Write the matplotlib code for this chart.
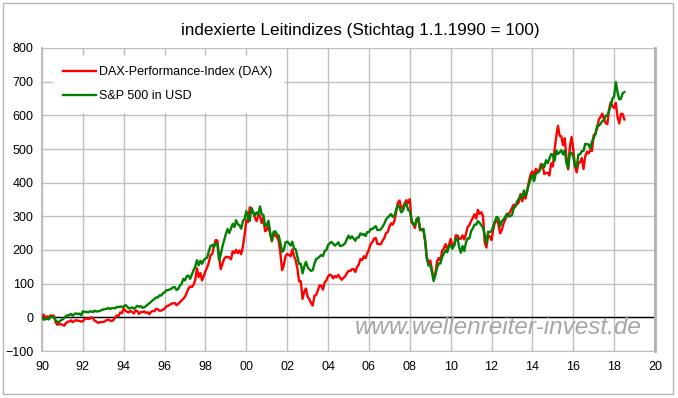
import matplotlib
matplotlib.use("Agg")
import matplotlib.pyplot as plt
from matplotlib.patches import Rectangle
import numpy as np

plt.rcParams['font.family'] = ['Liberation Sans', 'DejaVu Sans']

title = "indexierte Leitindizes (Stichtag 1.1.1990 = 100)"
label_dax = "DAX-Performance-Index (DAX)"
label_spx = "S&P 500 in USD"
watermark = "www.wellenreiter-invest.de"

start_year = 1990
dax_base = 1790
spx_base = 353.4

# monthly closing levels, Jan..Dec per year (2018: Jan..Jun)
dax_levels = [
    1930, 1770, 1840, 1800, 1890, 1880, 1870, 1530, 1390, 1450, 1420, 1400,   # 1990
    1341, 1478, 1555, 1571, 1632, 1530, 1601, 1640, 1611, 1603, 1566, 1578,   # 1991
    1690, 1734, 1700, 1719, 1788, 1740, 1602, 1561, 1491, 1532, 1531, 1545,   # 1992
    1583, 1650, 1666, 1617, 1597, 1655, 1790, 1887, 1876, 2045, 2012, 2267,   # 1993
    2144, 2081, 2050, 2142, 2072, 1995, 2163, 2112, 1971, 2075, 2063, 2107,   # 1994
    2026, 2060, 1957, 2083, 2125, 2116, 2245, 2222, 2139, 2149, 2190, 2254,   # 1995
    2377, 2400, 2460, 2516, 2530, 2551, 2432, 2514, 2592, 2695, 2775, 2889,   # 1996
    3100, 3320, 3430, 3400, 3520, 3780, 4400, 3930, 4150, 3750, 3990, 4250,   # 1997
    4450, 4710, 5100, 5160, 5600, 5900, 5870, 4950, 4350, 4650, 4900, 5000,   # 1998
    5000, 4970, 4880, 5300, 5200, 5380, 5200, 5350, 5150, 5550, 6200, 6960,   # 1999
    6850, 7640, 7600, 7400, 7100, 6900, 7200, 7200, 6800, 7080, 6370, 6430,   # 2000
    6800, 6200, 5830, 6260, 6120, 6060, 5860, 5190, 4300, 4560, 5040, 5160,   # 2001
    5100, 5040, 5400, 5040, 4820, 4380, 3700, 3710, 2770, 3150, 3320, 2890,   # 2002
    2750, 2550, 2420, 2940, 2980, 3220, 3490, 3480, 3260, 3650, 3750, 3965,   # 2003
    4060, 4020, 3860, 3985, 3920, 4050, 3900, 3785, 3890, 3960, 4130, 4256,   # 2004
    4250, 4350, 4350, 4200, 4460, 4590, 4890, 4830, 5040, 4930, 5190, 5400,   # 2005
    5670, 5800, 5970, 6010, 5690, 5680, 5680, 5860, 6000, 6270, 6310, 6600,   # 2006
    6790, 6720, 6920, 7410, 7880, 8000, 7580, 7640, 7860, 8020, 7870, 8070,   # 2007
    6850, 6750, 6540, 6950, 7100, 6420, 6480, 6420, 5830, 4990, 4670, 4810,   # 2008
    4340, 3840, 4080, 4770, 4940, 4810, 5330, 5460, 5680, 5410, 5630, 5960,   # 2009
    5610, 5600, 6150, 6140, 5960, 5970, 6150, 5930, 6230, 6600, 6690, 6910,   # 2010
    7080, 7270, 7040, 7510, 7290, 7380, 7160, 5780, 5500, 6140, 6090, 5900,   # 2011
    6460, 6860, 6950, 6760, 6260, 6420, 6770, 6970, 7220, 7260, 7410, 7610,   # 2012
    7780, 7740, 7800, 7910, 8350, 7960, 8280, 8100, 8590, 9030, 9400, 9550,   # 2013
    9310, 9690, 9560, 9600, 9940, 9830, 9410, 9470, 9470, 9330, 9980, 9810,   # 2014
    10690, 11400, 11970, 11450, 11410, 10940, 11310, 10260, 9660, 10850, 11380, 10740,  # 2015
    9800, 9500, 9970, 10040, 10260, 9680, 10340, 10590, 10510, 10670, 10640, 11480,     # 2016
    11540, 11830, 12310, 12440, 12620, 12330, 12120, 12060, 12830, 13230, 13020, 12920, # 2017
    13190, 12440, 12100, 12610, 12600, 12310,                                           # 2018
]

spx_levels = [
    329, 332, 340, 331, 361, 358, 356, 323, 306, 304, 322, 330,   # 1990
    344, 367, 375, 375, 390, 371, 388, 395, 388, 392, 375, 417,   # 1991
    409, 413, 404, 415, 415, 408, 424, 414, 418, 419, 431, 436,   # 1992
    439, 443, 452, 440, 450, 451, 448, 464, 459, 468, 462, 466,   # 1993
    482, 467, 446, 451, 457, 444, 458, 475, 463, 472, 454, 459,   # 1994
    470, 487, 501, 515, 533, 545, 562, 562, 584, 582, 605, 616,   # 1995
    636, 640, 646, 654, 669, 671, 640, 652, 687, 705, 757, 741,   # 1996
    786, 791, 757, 801, 848, 885, 954, 899, 947, 915, 955, 970,   # 1997
    980, 1049, 1102, 1112, 1091, 1134, 1121, 957, 1017, 1099, 1164, 1229,   # 1998
    1280, 1238, 1286, 1335, 1302, 1373, 1329, 1320, 1283, 1363, 1389, 1469, # 1999
    1394, 1366, 1499, 1452, 1421, 1455, 1431, 1518, 1437, 1429, 1315, 1320, # 2000
    1366, 1240, 1160, 1249, 1256, 1224, 1211, 1134, 1041, 1060, 1139, 1148, # 2001
    1130, 1107, 1147, 1076, 1067, 990, 912, 916, 815, 886, 936, 880,        # 2002
    856, 841, 848, 917, 964, 975, 990, 1008, 996, 1051, 1058, 1112,         # 2003
    1131, 1145, 1126, 1107, 1121, 1141, 1102, 1104, 1115, 1130, 1174, 1212, # 2004
    1181, 1204, 1181, 1157, 1192, 1191, 1234, 1220, 1229, 1207, 1249, 1248, # 2005
    1280, 1281, 1295, 1311, 1270, 1270, 1277, 1304, 1336, 1378, 1401, 1418, # 2006
    1438, 1407, 1421, 1482, 1531, 1503, 1455, 1474, 1527, 1549, 1481, 1468, # 2007
    1379, 1331, 1323, 1386, 1400, 1280, 1267, 1283, 1165, 969, 896, 903,    # 2008
    826, 735, 798, 873, 919, 919, 987, 1021, 1057, 1036, 1096, 1115,        # 2009
    1074, 1104, 1169, 1187, 1089, 1031, 1102, 1049, 1141, 1183, 1181, 1258, # 2010
    1286, 1327, 1326, 1364, 1345, 1321, 1292, 1219, 1131, 1253, 1247, 1258, # 2011
    1312, 1366, 1408, 1398, 1310, 1362, 1379, 1407, 1441, 1412, 1416, 1426, # 2012
    1498, 1515, 1569, 1598, 1631, 1606, 1686, 1633, 1682, 1757, 1806, 1848, # 2013
    1783, 1859, 1872, 1884, 1924, 1960, 1931, 2003, 1972, 2018, 2068, 2059, # 2014
    1995, 2105, 2068, 2086, 2107, 2063, 2104, 1972, 1920, 2079, 2080, 2044, # 2015
    1940, 1932, 2060, 2065, 2097, 2099, 2174, 2171, 2168, 2126, 2199, 2239, # 2016
    2279, 2364, 2363, 2384, 2412, 2423, 2470, 2472, 2519, 2575, 2648, 2674, # 2017
    2824, 2714, 2641, 2648, 2705, 2718,                                     # 2018
]

y_ticks = list(range(-100, 801, 100))
x_ticks = list(range(1990, 2021, 2))
x_labels = ["90", "92", "94", "96", "98", "00", "02", "04", "06", "08",
            "10", "12", "14", "16", "18", "20"]

# indexing (change vs. 1.1.1990)
dax_vals = np.concatenate([[0.0], (np.array(dax_levels) / dax_base - 1) * 100])
spx_vals = np.concatenate([[0.0], (np.array(spx_levels) / spx_base - 1) * 100])
dax_x = start_year + np.arange(len(dax_vals)) / 12.0
spx_x = start_year + np.arange(len(spx_vals)) / 12.0

W, H = 678, 398
fig = plt.figure(figsize=(W / 100, H / 100), dpi=100)
fig.patch.set_facecolor("white")

# outer frame
fig.patches.append(Rectangle((3 / W, 4 / H), 670 / W, 391 / H, transform=fig.transFigure,
                             fill=False, edgecolor="#b4b4b4", linewidth=1.0))

L, R, T, B = 42, 655, 48, 351
ax = fig.add_axes([L / W, 1 - B / H, (R - L) / W, (B - T) / H])
ax.set_xlim(1990, 2020)
ax.set_ylim(-100, 800)

grid_c = "#c0c0c0"
ax.set_yticks(y_ticks)
ax.set_xticks(x_ticks)
ax.set_xticklabels(x_labels)
ax.grid(True, color=grid_c, linewidth=1.0)
ax.set_axisbelow(True)
ax.tick_params(axis="both", length=0, labelsize=9, colors="black")
ax.tick_params(axis="y", pad=6)
ax.tick_params(axis="x", pad=7)
ax.spines["top"].set_visible(False)
ax.spines["left"].set_color(grid_c)
ax.spines["bottom"].set_color(grid_c)
ax.spines["right"].set_color("#b0b0b0")
ax.spines["right"].set_linewidth(2.0)
ax.spines["left"].set_linewidth(1.5)

ax.axhline(0, color="black", linewidth=1.0, zorder=2)

ax.plot(dax_x, dax_vals, color="#ff0000", linewidth=1.7, label=label_dax, zorder=3)
ax.plot(spx_x, spx_vals, color="#008000", linewidth=1.7, label=label_spx, zorder=4)

leg = ax.legend(loc="upper left", bbox_to_anchor=(0.012, 0.985), frameon=True,
                fontsize=9, handlelength=2.6, handletextpad=0.3, labelspacing=0.95,
                borderpad=0.8, borderaxespad=0.3, fancybox=False)
leg.get_frame().set_facecolor("white")
leg.get_frame().set_edgecolor("white")
leg.get_frame().set_alpha(1.0)

ax.text(0.978, 0.078, watermark, transform=ax.transAxes, ha="right", va="center",
        fontsize=17.5, style="italic", color="#a6a6a6", zorder=5)

fig.text(360 / W, 1 - 30 / H, title, ha="center", va="center", fontsize=12.3)

fig.savefig("out.png", dpi=100)
